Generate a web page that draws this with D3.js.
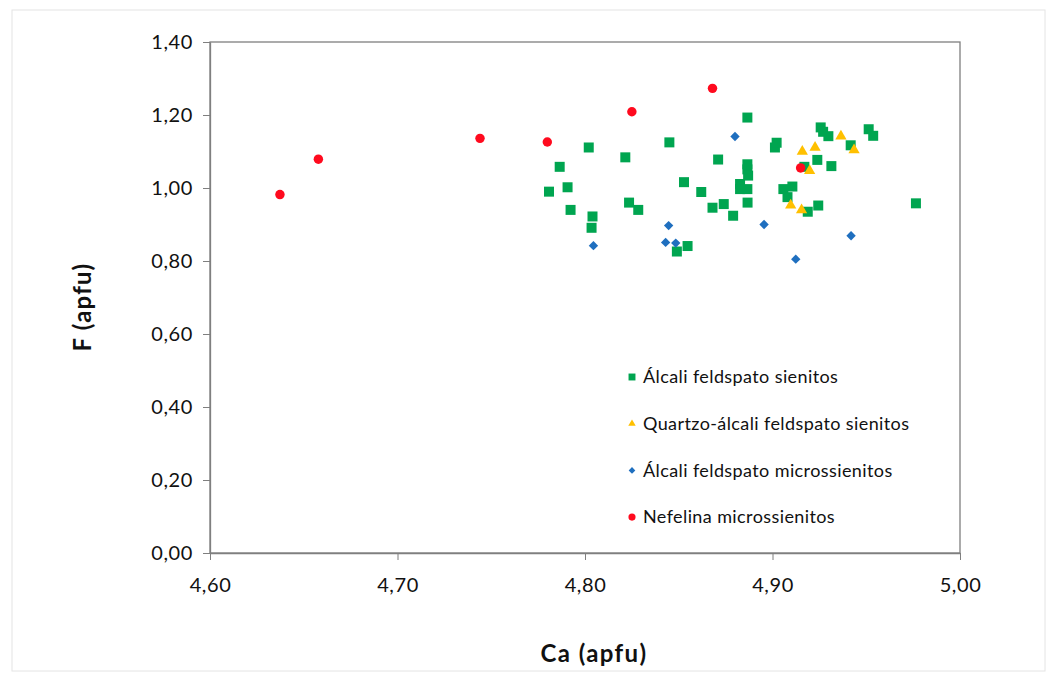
<!DOCTYPE html>
<html>
<head>
<meta charset="utf-8">
<script src="https://cdn.jsdelivr.net/npm/d3@7"></script>
<style>
body { margin: 0; background: #fff; }
svg text { font-family: Lato, "Open Sans", sans-serif; fill: #111; }
</style>
</head>
<body>
<div id="chart"></div>
<script>
// Álcali feldspato sienitos
const sienitosCa = [4.7865, 4.7808, 4.7907, 4.7923, 4.802, 4.8035, 4.804, 4.8215, 4.8235, 4.8284, 4.845, 4.849, 4.8528, 4.8547, 4.862, 4.868, 4.871, 4.874, 4.879, 4.8827, 4.8827, 4.8866, 4.8866, 4.8866, 4.887, 4.8867, 4.8866, 4.9013, 4.9022, 4.9058, 4.908, 4.9106, 4.917, 4.9188, 4.9239, 4.9244, 4.9257, 4.927, 4.9298, 4.9314, 4.9417, 4.9513, 4.9537, 4.9765];
const sienitosF  = [1.058, 0.990, 1.002, 0.940, 1.111, 0.891, 0.922, 1.084, 0.960, 0.940, 1.125, 0.826, 1.016, 0.841, 0.989, 0.946, 1.078, 0.956, 0.924, 1.011, 0.997, 0.997, 1.051, 1.065, 1.034, 0.960, 1.193, 1.111, 1.124, 0.997, 0.975, 1.004, 1.058, 0.935, 1.077, 0.952, 1.166, 1.154, 1.142, 1.060, 1.117, 1.161, 1.143, 0.958];
// Quartzo-álcali feldspato sienitos
const quartzoCa = [4.9365, 4.9227, 4.9159, 4.9435, 4.9198, 4.9097, 4.9155];
const quartzoF  = [1.142, 1.111, 1.100, 1.104, 1.047, 0.953, 0.940];
// Álcali feldspato microssienitos
const microCa = [4.880, 4.8446, 4.8045, 4.843, 4.8484, 4.8955, 4.9419, 4.9124];
const microF  = [1.141, 0.897, 0.842, 0.851, 0.849, 0.900, 0.869, 0.805];
// Nefelina microssienitos
const nefelinaCa = [4.6373, 4.6578, 4.744, 4.7799, 4.825, 4.868, 4.915];
const nefelinaF  = [0.982, 1.079, 1.136, 1.126, 1.209, 1.273, 1.055];

const xTicks = [4.60, 4.70, 4.80, 4.90, 5.00];
const yTicks = [0, 0.2, 0.4, 0.6, 0.8, 1.0, 1.2, 1.4];

const series = [
  { name: 'Álcali feldspato sienitos', ca: sienitosCa, f: sienitosF, symbol: d3.symbolSquare, rot: 0, color: '#00A550', size: 100, lsize: 48 },
  { name: 'Quartzo-álcali feldspato sienitos', ca: quartzoCa, f: quartzoF, symbol: d3.symbolTriangle, rot: 0, color: '#FFC000', size: 55, lsize: 24 },
  { name: 'Álcali feldspato microssienitos', ca: microCa, f: microF, symbol: d3.symbolSquare, rot: 45, color: '#1F6FBF', size: 44, lsize: 22 },
  { name: 'Nefelina microssienitos', ca: nefelinaCa, f: nefelinaF, symbol: d3.symbolCircle, rot: 0, color: '#FF0A1E', size: 70, lsize: 40 }
];

const W = 1057, H = 673;
const m = { left: 210, top: 42, right: 97, bottom: 120 };
const iw = W - m.left - m.right, ih = H - m.top - m.bottom;

const svg = d3.select('#chart').append('svg').attr('width', W).attr('height', H);
svg.append('rect').attr('x', 12).attr('y', 10).attr('width', W - 24).attr('height', H - 12)
  .attr('fill', '#fff').attr('stroke', '#e4e4e4').attr('stroke-width', 1);

const x = d3.scaleLinear().domain([4.6, 5.0]).range([0, iw]);
const y = d3.scaleLinear().domain([0, 1.4]).range([ih, 0]);
const fmt = d => d3.format('.2f')(d).replace('.', ',');

const g = svg.append('g').attr('transform', `translate(${m.left},${m.top})`);

g.append('rect').attr('width', iw).attr('height', ih).attr('fill', 'none')
  .attr('stroke', '#7f7f7f').attr('stroke-width', 1.3);

const xAxis = g.append('g').attr('transform', `translate(0,${ih})`)
  .call(d3.axisBottom(x).tickValues(xTicks).tickFormat(fmt).tickSize(7).tickSizeOuter(0));
const yAxis = g.append('g')
  .call(d3.axisLeft(y).tickValues(yTicks).tickFormat(fmt).tickSize(7).tickSizeOuter(0));
[xAxis, yAxis].forEach(a => {
  a.select('.domain').attr('stroke', '#7f7f7f').attr('stroke-width', 1.3);
  a.selectAll('.tick line').attr('stroke', '#7f7f7f');
  a.selectAll('.tick text').style('font-size', '20px').style('letter-spacing', '0.6px').attr('fill', '#111');
});
xAxis.selectAll('.tick text').attr('y', 39).attr('dy', 0);
yAxis.selectAll('.tick text').attr('x', -17);

series.forEach(s => {
  g.append('g').selectAll('path').data(s.ca.map((c, i) => [c, s.f[i]])).enter().append('path')
    .attr('transform', d => `translate(${x(d[0])},${y(d[1])}) rotate(${s.rot})`)
    .attr('d', d3.symbol().type(s.symbol).size(s.size))
    .attr('fill', s.color);
});

const legend = g.append('g').attr('transform', 'translate(422,335)');
series.forEach((s, i) => {
  const row = legend.append('g').attr('transform', `translate(0,${i * 46.7})`);
  row.append('path').attr('transform', `rotate(${s.rot})`)
    .attr('d', d3.symbol().type(s.symbol).size(s.lsize)).attr('fill', s.color);
  row.append('text').attr('x', 11).attr('dy', '0.35em')
    .style('font-size', '18px').style('letter-spacing', '0.4px').text(s.name);
});

svg.append('text').attr('x', 594).attr('y', 662)
  .attr('text-anchor', 'middle').style('font-size', '24px').style('font-weight', 'bold')
  .style('letter-spacing', '1.4px').text('Ca (apfu)');
svg.append('text').attr('transform', 'translate(91,307) rotate(-90)')
  .attr('text-anchor', 'middle').style('font-size', '24px').style('font-weight', 'bold')
  .style('letter-spacing', '1.2px').text('F (apfu)');
</script>
</body>
</html>
